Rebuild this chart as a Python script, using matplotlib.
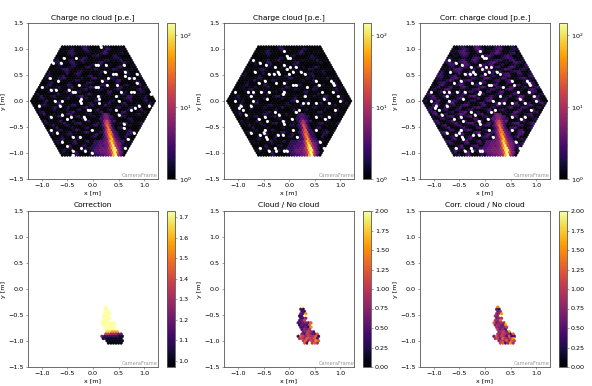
import numpy as np
import matplotlib
matplotlib.use("Agg")
import matplotlib.pyplot as plt
from matplotlib.collections import PolyCollection
from matplotlib.colors import LogNorm, Normalize

pitch = 0.05
radius = 24

# Night sky background per camera row, top row first. One digit per pixel, see the level lists
noise_rows = [
    "0012200045300110233100120",
    "10013310056210001254000121",
    "001245100034200113620001100",
    "0100354200012000236410012300",
    "00110242001100345200013520010",
    "120000110025410021000124430001",
    "2310013400362000011233100251001",
    "13410025510130001246200010034210",
    "002430014520000231550012000121003",
    "1001200233100145200012400036400012",
    "00010356200012000243100015420001210",
    "120001243000340012000362100012340001",
    "2410000150036410001123000245100340012",
    "34200125000123000450012100236000110024",
    "112000345100002310056200014300001252001",
    "0010126300012540001200013400256100012300",
    "00234100002310000145300012000341000124520",
    "100351000126400012300002540001001340002610",
    "0013000240003510001264000122000451001200123",
    "01200046200011000235000143100025400010036200",
    "100014300012600034100002200156000123100024300",
    "2300010025100143000126300001240001530001220012",
    "01250003400011200356100002310000140026500012300",
    "001340001200025100001400236000112000345000124000",
    "1200025100034200001230001560001340000125000136100",
    "000124000356100012000134000022500013600012000241",
    "10034200001200245100003400116200001230002510001",
    "0120000351001400002362000120000145000342000120",
    "230001240002300135000012600034100002400126000",
    "13500001120034600012000235000110056200001230",
    "0260012000145300001240000361000132000124000",
    "001200245000013600002310001250003400001200",
    "10034100002300015400012600003200014500012",
    "2400012600013000235000110034600001230001",
    "130000125000346100002400011200356000124",
    "00250001340000120024500013600001230002",
    "0012600002410003500001240000356100012",
    "100034000126300001200245000110034000",
    "24100012300002560001340000120024600",
    "1300002450001100036200012300015400",
    "001240000136000245100002300126000",
    "10035000124000011003400125000121",
    "2310001260002500001340000245001",
    "132000034000120046100012300012",
    "00012600024500001200035000241",
    "1000340000123000261000124001",
    "024100012500003400001360002",
    "13000260001240000235000120",
    "0120045000130002360001400",
]
# Charge in p.e. for each digit of noise_rows
levels_no_cloud = [1.0, 1.1, 1.3, 1.6, 1.9, 2.3, 2.7, 3.2, 3.8, 4.6]
levels_cloud = [1.0, 1.02, 1.1, 1.3, 1.6, 1.9, 2.3, 2.8, 3.4, 4.2]
levels_corr = [1.1, 1.5, 2.0, 2.4, 2.8, 3.2, 3.7, 4.2, 4.9, 6.0]

# Pixels without signal (white holes), in metres
dead_x = [0.15, -0.33, -0.57, -0.76, -0.63, 0.05, 0.1, 0.25, 0.58, 0.62, 0.25, 0.38, 0.45, 0.65, 0.7, 0.8, 0.85,
          0.3, 0.2, 0.3, -0.7, -0.72, -0.83, -1.0, -0.82, -0.5, -0.3, -0.35, -0.4, 0.05, 0.1, 0.5, 0.55, 0.85,
          0.8, 0.75, 1.15, -0.23, -0.23, -0.23, 0.12, 0.12, 0.13, 0.45, 0.5, -0.6, -0.73, -1.05, -0.65, 0.88,
          0.85, 0.75, 1.1, -0.1, -0.05, 0.45, 0.52, -0.85, -0.6, -0.4, -0.5, -0.18, -0.15, 0.6, 0.6, 0.8, -0.8,
          -0.7, -0.4, -0.25, -0.05, 0.55, 0.7, -0.6, -0.5, -0.2, -0.15, -0.4, 0.65, 0.1, -0.05, -0.4]
dead_y = [1.03, 0.8, 0.8, 0.74, 0.72, 0.72, 0.71, 0.68, 0.71, 0.58, 0.57, 0.52, 0.5, 0.48, 0.45, 0.46, 0.5,
          0.42, 0.4, 0.3, 0.4, 0.22, 0.42, 0.28, 0.22, 0.22, 0.3, 0.2, 0.15, 0.27, 0.25, 0.3, 0.2, 0.33,
          0.2, 0.15, 0.12, 0.05, 0.0, -0.03, 0.07, 0.02, -0.04, 0.07, 0.02, 0.02, 0.0, -0.1, -0.1, -0.07,
          -0.12, -0.15, -0.08, -0.15, -0.18, -0.2, -0.25, -0.3, -0.25, -0.3, -0.33, -0.3, -0.33, -0.45, -0.5, -0.6, -0.55,
          -0.6, -0.7, -0.7, -0.55, -0.75, -0.75, -0.78, -0.85, -0.92, -0.95, -0.97, -0.9, -1.03, -1.0, -1.05]
# The two cloud images share another set of holes
dead_cloud_x = [-0.11, -0.05, -0.03, 0.03, -0.7, -0.6, -0.45, -0.3, -0.12, -0.08, 0.02, 0.12, 0.25, 0.3, -0.7, -0.4,
                -0.32, -0.25, -0.2, -0.05, 0.08, 0.0, 0.85, 0.83, 0.9, 0.55, 0.6, -0.5, -0.58, -0.25, -0.1, 0.08,
                0.15, 0.35, -1.05, -0.8, -0.7, -0.75, -0.55, -0.4, -0.1, -0.15, 0.3, 0.65, 0.85, 0.95, 0.7, -0.75,
                -1.03, -0.95, -1.0, -0.9, -0.7, -0.45, 0.15, 0.3, 0.4, 0.55, 0.8, 1.0, -0.28, -0.2, 0.12, 0.2,
                0.55, 0.8, 0.7, 0.9, -0.85, -0.6, -0.5, -0.45, -0.15, -0.1, 0.05, -0.48, -0.48, -0.6, -0.75, -0.45,
                -0.4, -0.2, -0.1, 0.08, 0.15, 0.55, 0.6, -0.3, -0.1, -0.05, 0.08, 0.1, -0.6, -0.25, 0.7, -0.38]
dead_cloud_y = [0.95, 0.88, 0.82, 0.8, 0.8, 0.75, 0.7, 0.65, 0.7, 0.68, 0.65, 0.67, 0.55, 0.5, 0.55, 0.5,
                0.52, 0.55, 0.5, 0.58, 0.58, 0.5, 0.4, 0.35, 0.3, 0.38, 0.3, 0.4, 0.35, 0.35, 0.33, 0.3,
                0.3, 0.25, 0.18, 0.18, 0.15, 0.1, 0.2, 0.15, 0.2, 0.12, 0.1, 0.18, 0.15, 0.1, 0.05, -0.1,
                0.0, -0.07, -0.12, -0.15, 0.0, 0.03, 0.02, -0.05, -0.05, -0.05, -0.05, 0.0, -0.22, -0.25, -0.2, -0.15,
                -0.3, -0.3, -0.35, -0.2, -0.25, -0.35, -0.3, -0.4, -0.38, -0.42, -0.35, -0.55, -0.6, -0.65, -0.6, -0.72,
                -0.75, -0.65, -0.65, -0.55, -0.7, -0.55, -0.8, -0.9, -0.93, -0.95, -0.9, -0.85, -0.92, -0.98, -0.95, -0.95]

# Shower image: camera row, first x of the row, charge per pixel
shower_row = [-6, -7, -8, -9, -10, -11, -12, -13, -14, -15, -16, -17, -18, -19, -20, -21, -22, -23, -24]
shower_start = [0.2, 0.175, 0.2, 0.175, 0.2, 0.175, 0.2, 0.225, 0.2, 0.225, 0.2, 0.225, 0.05, 0.025, 0.0, -0.025, 0.0, 0.025, 0.05]
shower_no_cloud = [
    [3, 5, 3], [2, 4, 5, 3], [3, 6, 5, 2], [2, 7, 16, 6, 2], [3, 14, 15, 3], [2, 5, 28, 12, 2], [2, 6, 34, 7, 2],
    [3, 16, 38, 4, 2], [2, 6, 26, 30, 3, 2], [3, 10, 50, 18, 3, 2], [2, 4, 17, 60, 10, 3, 2], [3, 5, 24, 70, 7, 3, 2],
    [2, 2, 3, 3, 4, 10, 70, 40, 5, 3, 2], [2, 2, 3, 3, 4, 5, 16, 100, 22, 5, 4, 2],
    [2, 2, 3, 4, 3, 4, 6, 34, 115, 12, 5, 3], [2, 2, 3, 3, 4, 4, 5, 11, 65, 125, 10, 4, 2],
    [2, 3, 3, 4, 4, 4, 6, 13, 95, 100, 7, 3], [2, 3, 3, 4, 4, 5, 7, 26, 140, 26, 5, 3],
    [2, 2, 3, 3, 4, 5, 10, 60, 145, 9, 3],
]
shower_cloud = [
    [2, 3, 2], [2, 3, 3, 2], [2, 4, 3, 2], [2, 4, 10, 4, 2], [2, 9, 9, 2], [2, 3, 19, 8, 2], [2, 4, 21, 5, 2],
    [2, 10, 24, 3, 2], [2, 4, 16, 19, 2, 2], [2, 7, 31, 12, 2, 2], [2, 3, 11, 38, 7, 2, 2], [2, 3, 15, 44, 5, 3, 2],
    [2, 2, 2, 3, 3, 7, 50, 28, 4, 3, 2], [2, 2, 2, 3, 3, 4, 13, 85, 20, 5, 4, 2],
    [2, 2, 3, 3, 3, 4, 5, 30, 108, 12, 5, 3], [2, 2, 2, 3, 3, 4, 5, 11, 62, 122, 10, 4, 2],
    [2, 2, 3, 4, 4, 4, 6, 13, 93, 98, 7, 3], [2, 3, 3, 4, 4, 5, 7, 26, 138, 26, 5, 3],
    [2, 2, 3, 3, 4, 5, 10, 59, 142, 9, 3],
]
shower_corr = [
    [4, 6, 4], [3, 5, 6, 4], [4, 7, 6, 3], [3, 8, 17, 7, 3], [4, 15, 16, 4], [3, 6, 29, 13, 3], [3, 7, 35, 8, 3],
    [4, 17, 39, 5, 3], [3, 7, 27, 31, 4, 3], [4, 11, 52, 19, 4, 3], [3, 5, 18, 62, 11, 4, 3], [4, 6, 25, 72, 8, 4, 3],
    [3, 3, 4, 4, 5, 11, 72, 41, 6, 4, 3], [3, 3, 4, 4, 5, 6, 17, 102, 23, 6, 5, 3],
    [3, 3, 4, 5, 4, 5, 7, 35, 116, 13, 6, 4], [3, 3, 4, 4, 5, 5, 6, 12, 66, 126, 11, 5, 3],
    [3, 4, 4, 5, 5, 5, 7, 14, 96, 101, 8, 4], [3, 4, 4, 5, 5, 6, 8, 27, 142, 27, 6, 4],
    [3, 3, 4, 4, 5, 6, 11, 61, 148, 10, 4],
]

# Cleaned pixels used in the lower row
clean_row = [-8, -9, -10, -11, -12, -13, -14, -15, -16, -17, -18, -19, -20, -21, -22, -23, -24]
clean_start = [0.25, 0.225, 0.25, 0.225, 0.2, 0.225, 0.2, 0.175, 0.2, 0.225, 0.25, 0.275, 0.25, 0.175, 0.2, 0.275, 0.3]
correction_levels = [1.0, 1.03, 1.1, 1.2, 1.3, 1.4, 1.5, 1.58, 1.66, 1.73]
correction_codes = ["9", "99", "99", "999", "999", "999", "999", "999999", "99999", "99999", "9999", "88777",
                    "5544433", "322222211", "11000000", "0000000", "000000"]
ratio_levels = [0.15, 0.3, 0.45, 0.6, 0.75, 0.9, 1.05, 1.25, 1.5, 2.0]
ratio_codes = ["9", "21", "11", "328", "129", "124", "236", "223437", "13227", "22318", "2435", "34642",
               "4265327", "176465571", "56476572", "6746587", "729675"]
corr_ratio_codes = ["8", "31", "34", "448", "549", "345", "547", "734559", "45438", "54346", "5342", "45638",
                    "5465427", "374652712", "56375468", "4657476", "672585"]

# Camera geometry
xs, ys, rows = [], [], []
for r in range(radius, -radius - 1, -1):
    n = 2 * radius + 1 - abs(r)
    for i in range(n):
        xs.append((i - (n - 1) / 2) * pitch)
        ys.append(r * pitch * np.sqrt(3) / 2)
        rows.append(r)
xs, ys, rows = np.array(xs), np.array(ys), np.array(rows)
angles = np.deg2rad(np.arange(30, 390, 60))
hex_r = pitch / np.sqrt(3)
verts = np.stack([np.stack([xs + hex_r * np.cos(a), ys + hex_r * np.sin(a)], axis=1) for a in angles], axis=1)


def pixel_index(r, x):
    in_row = np.where(rows == r)[0]
    return in_row[np.argmin(np.abs(xs[in_row] - x))]


def charge_image(levels, shower, holes_x, holes_y):
    values = []
    for k, r in enumerate(range(radius, -radius - 1, -1)):
        n = 2 * radius + 1 - abs(r)
        row = (noise_rows[k] * 2)[:n]
        values.extend(levels[int(c)] for c in row)
    values = np.array(values, dtype=float)
    for x, y in zip(holes_x, holes_y):
        values[np.argmin((xs - x) ** 2 + (ys - y) ** 2)] = np.nan
    for r, start, vals in zip(shower_row, shower_start, shower):
        first = pixel_index(r, start)
        values[first:first + len(vals)] = vals
    return values


def clean_image(codes, levels):
    values = np.full(len(xs), np.nan)
    for r, start, code in zip(clean_row, clean_start, codes):
        first = pixel_index(r, start)
        values[first:first + len(code)] = [levels[int(c)] for c in code]
    return values


panels = [
    ("Charge no cloud [p.e.]", charge_image(levels_no_cloud, shower_no_cloud, dead_x, dead_y), LogNorm(1.0, 148)),
    ("Charge cloud [p.e.]", charge_image(levels_cloud, shower_cloud, dead_cloud_x, dead_cloud_y), LogNorm(1.0, 148)),
    ("Corr. charge cloud [p.e.]", charge_image(levels_corr, shower_corr, dead_cloud_x, dead_cloud_y), LogNorm(1.0, 148)),
    ("Correction", clean_image(correction_codes, correction_levels), Normalize(0.97, 1.73)),
    ("Cloud / No cloud", clean_image(ratio_codes, ratio_levels), Normalize(0, 2)),
    ("Corr. cloud / No cloud", clean_image(corr_ratio_codes, ratio_levels), Normalize(0, 2)),
]

W, H = 592, 386
lefts = [27.5, 223.7, 419.5]
tops = [23, 211]
ax_w, ax_h = 130.5, 156
fs = 4.6
lw = 0.6
line_col = "#555555"

fig = plt.figure(figsize=(W / 100, H / 100), dpi=100)
for k, (title, values, norm) in enumerate(panels):
    left = lefts[k % 3]
    top = tops[k // 3]
    ax = fig.add_axes([left / W, 1 - (top + ax_h) / H, ax_w / W, ax_h / H])
    ok = ~np.isnan(values)
    coll = PolyCollection(verts[ok], array=values[ok], cmap="inferno", norm=norm,
                          edgecolors="face", linewidths=0.3)
    ax.add_collection(coll)
    # holes look larger than one pixel in the reference
    if k < 3:
        ax.scatter(xs[~ok], ys[~ok], s=5.5, marker="H", color="white", linewidths=0, zorder=3)
    ax.set_xlim(-1.28, 1.27)
    ax.set_ylim(-1.5, 1.5)
    ax.set_xticks([-1.0, -0.5, 0.0, 0.5, 1.0])
    ax.set_yticks(np.arange(-1.5, 1.6, 0.5))
    ax.set_xlabel("x [m]", fontsize=4.6, labelpad=1.6)
    ax.set_ylabel("y [m]", fontsize=4.6, labelpad=1.6)
    ax.set_title(title, fontsize=5.4, pad=3)
    ax.tick_params(labelsize=fs, length=1.6, width=0.4, pad=1.2, color=line_col)
    ax.text(1.0, 0.005, "CameraFrame", transform=ax.transAxes, ha="right", va="bottom",
            fontsize=3.7, color="grey", alpha=0.8)
    for s in ax.spines.values():
        s.set_linewidth(lw)
        s.set_color(line_col)
    cax = fig.add_axes([(left + ax_w + 8.5) / W, 1 - (top + ax_h) / H, 8.3 / W, ax_h / H])
    cb = fig.colorbar(coll, cax=cax)
    cb.ax.tick_params(labelsize=fs, length=1.6, width=0.4, pad=1.2, which="major", color=line_col)
    cb.ax.tick_params(length=0.9, width=0.3, which="minor", color=line_col)
    cb.outline.set_linewidth(lw)
    cb.outline.set_edgecolor(line_col)

fig.savefig("out.png", dpi=100)
